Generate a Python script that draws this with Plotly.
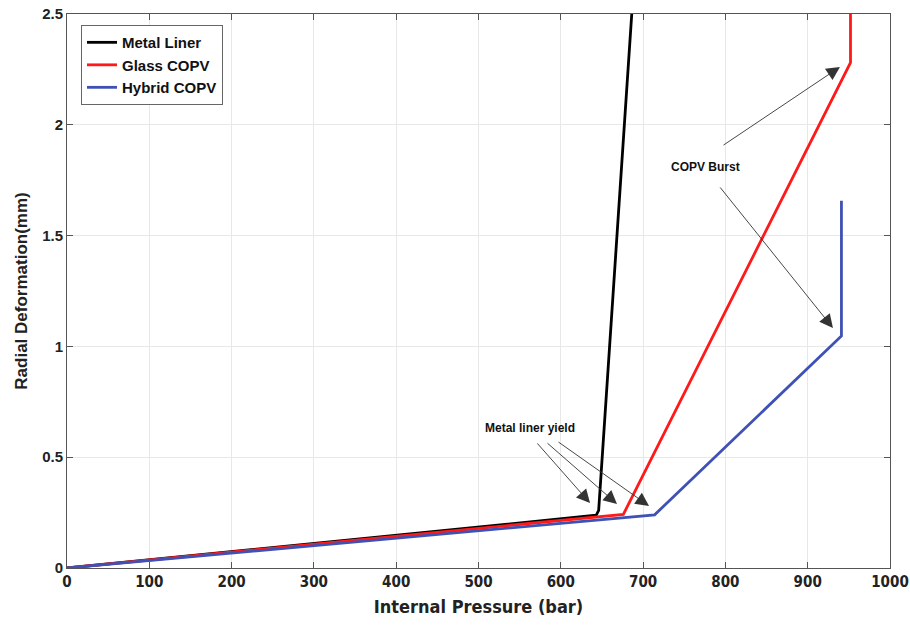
import plotly.graph_objects as go

# Data (pressure in bar, radial deformation in mm)
metal_p = [0, 643, 646, 686, 688]
metal_d = [0, 0.238, 0.26, 2.5, 2.6]

glass_p = [0, 676, 952, 952]
glass_d = [0, 0.242, 2.28, 2.6]

hybrid_p = [0, 714, 941, 941]
hybrid_d = [0, 0.24, 1.047, 1.657]

x_ticks = [0, 100, 200, 300, 400, 500, 600, 700, 800, 900, 1000]
y_ticks = [0, 0.5, 1, 1.5, 2, 2.5]
y_tick_text = ["0", "0.5", "1", "1.5", "2", "2.5"]

# annotation positions (data coords)
yield_text = (562.6, 0.632)
yield_tails = [(569.9, 0.569), (582.0, 0.569), (595.4, 0.573)]
yield_heads = [(635.5, 0.293), (668.3, 0.289), (707.2, 0.280)]
burst_text = (776.4, 1.81)
burst_tails = [(795.9, 1.904), (792.2, 1.724)]
burst_heads = [(939.2, 2.261), (930.7, 1.083)]

narrow = "DejaVu Sans Condensed, Liberation Sans Narrow, Arial Narrow, sans-serif"
regular = "Liberation Sans, Arial, sans-serif"

fig = go.Figure()
fig.add_trace(go.Scatter(x=metal_p, y=metal_d, mode="lines", name="Metal Liner",
                         line=dict(color="#000000", width=2.8)))
fig.add_trace(go.Scatter(x=glass_p, y=glass_d, mode="lines", name="Glass COPV",
                         line=dict(color="#ff1a1a", width=2.8)))
fig.add_trace(go.Scatter(x=hybrid_p, y=hybrid_d, mode="lines", name="Hybrid COPV",
                         line=dict(color="#3f51b5", width=2.8)))

annotations = []
for (tx, ty), (hx, hy) in zip(yield_tails + burst_tails, yield_heads + burst_heads):
    annotations.append(dict(x=hx, y=hy, ax=tx, ay=ty, xref="x", yref="y",
                            axref="x", ayref="y", text="", showarrow=True,
                            arrowhead=2, arrowsize=3, arrowwidth=0.9,
                            arrowcolor="#333333", standoff=0))
annotations.append(dict(x=yield_text[0], y=yield_text[1], xref="x", yref="y",
                        text="Metal liner yield", showarrow=False,
                        font=dict(family=regular, size=12, color="#111111", weight="bold")))
annotations.append(dict(x=burst_text[0], y=burst_text[1], xref="x", yref="y",
                        text="COPV Burst", showarrow=False,
                        font=dict(family=regular, size=12, color="#111111", weight="bold")))

fig.update_layout(
    width=910, height=627,
    margin=dict(l=67, r=20, t=14, b=59, autoexpand=False),
    paper_bgcolor="white", plot_bgcolor="white",
    showlegend=True,
    legend=dict(x=0.017, y=0.98, xanchor="left", yanchor="top",
                bgcolor="white", bordercolor="#666666", borderwidth=1,
                font=dict(family=regular, size=15, color="#111111", weight="bold"),
                tracegroupgap=0, itemwidth=30),
    annotations=annotations,
)
fig.update_xaxes(range=[0, 1000], tickvals=x_ticks, ticktext=[str(v) for v in x_ticks],
                 tickfont=dict(family=narrow, size=15, color="#222222", weight="bold"),
                 ticklabeloverflow="allow",
                 title=dict(text="Internal Pressure (bar)",
                            font=dict(family=narrow, size=18, color="#222222", weight="bold"), standoff=10),
                 automargin=False,
                 showgrid=True, gridcolor="#e8e8e8", gridwidth=1,
                 showline=True, linecolor="#555555", linewidth=1, mirror="ticks",
                 ticks="inside", ticklen=6, tickcolor="#555555", zeroline=False)
fig.update_yaxes(range=[0, 2.5], tickvals=y_ticks, ticktext=y_tick_text,
                 tickfont=dict(family=regular, size=15, color="#222222", weight="bold"),
                 ticklabeloverflow="allow",
                 title=dict(text="Radial Deformation(mm)",
                            font=dict(family=regular, size=17, color="#222222", weight="bold"), standoff=10),
                 automargin=False,
                 showgrid=True, gridcolor="#e8e8e8", gridwidth=1,
                 showline=True, linecolor="#555555", linewidth=1, mirror="ticks",
                 ticks="inside", ticklen=6, tickcolor="#555555", zeroline=False)

fig.write_html("out.html", config={"displayModeBar": False},
               post_script="document.body.style.margin='0';document.body.style.overflow='hidden';")
